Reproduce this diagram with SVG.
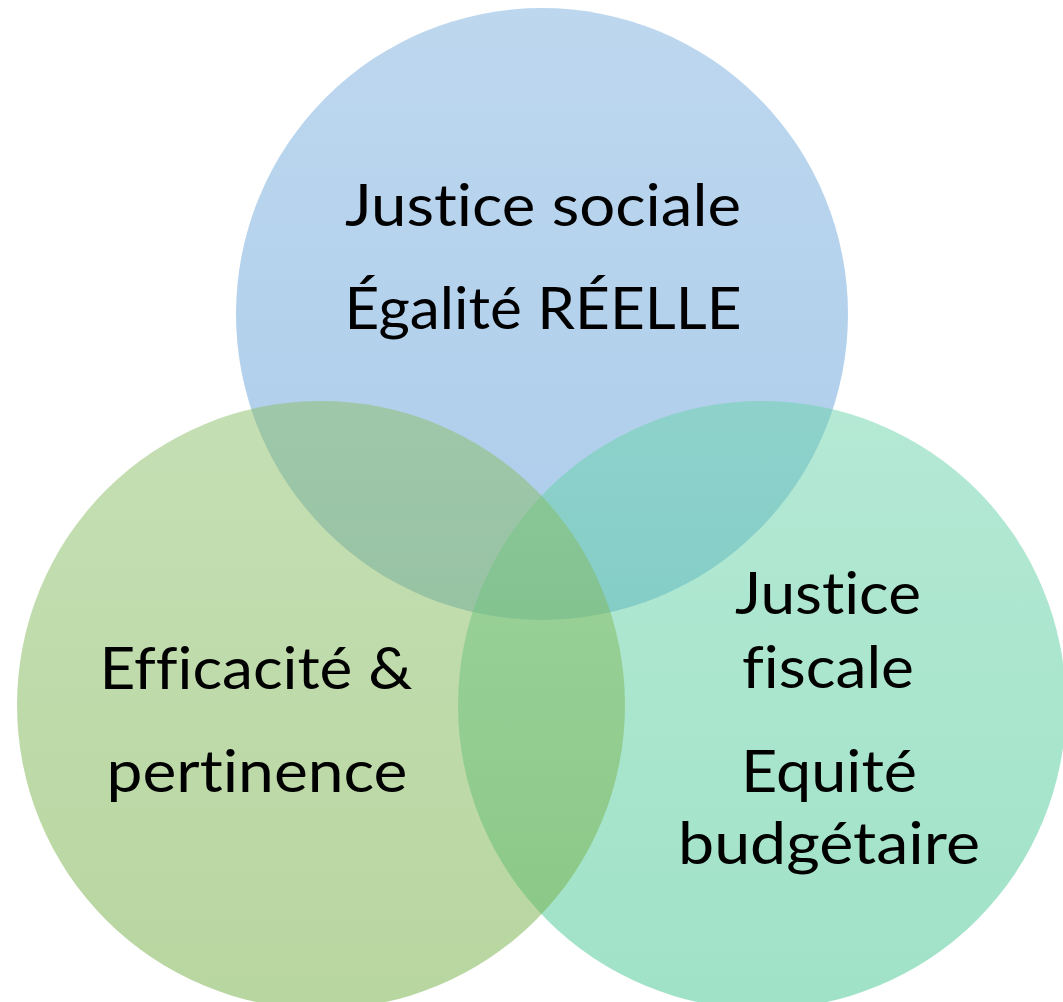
<svg xmlns="http://www.w3.org/2000/svg" width="1063" height="1002" viewBox="0 0 1063 1002">
<defs>
<linearGradient id="gBlue" x1="0" y1="0" x2="0" y2="1"><stop offset="0" stop-color="#7bafdd"/><stop offset="1" stop-color="#5b9bd8"/></linearGradient>
<linearGradient id="gTeal" x1="0" y1="0" x2="0" y2="1"><stop offset="0" stop-color="#6bd3ab"/><stop offset="1" stop-color="#41c591"/></linearGradient>
<linearGradient id="gGreen" x1="0" y1="0" x2="0" y2="1"><stop offset="0" stop-color="#8bbf69"/><stop offset="1" stop-color="#71ad41"/></linearGradient>
</defs>
<style>
.c{fill-opacity:0.5}
.t{font-family:Lato,"Open Sans",sans-serif;font-size:59px;fill:#000;text-anchor:middle;font-variant-ligatures:none;font-feature-settings:"liga" 0,"dlig" 0,"clig" 0}
</style>
<rect width="1063" height="1002" fill="#fff"/>
<g id="top">
<circle class="c" cx="542" cy="314" r="306" fill="url(#gBlue)"/>
<text class="t" x="543" y="226" textLength="396" lengthAdjust="spacingAndGlyphs">Justice sociale</text>
<text class="t" x="543" y="329" textLength="397" lengthAdjust="spacingAndGlyphs">Égalité RÉELLE</text>
</g>
<g id="right">
<circle class="c" cx="762" cy="705" r="304" fill="url(#gTeal)"/>
<text class="t" x="828" y="614" textLength="186" lengthAdjust="spacingAndGlyphs">Justice</text>
<text class="t" x="828" y="688" textLength="172" lengthAdjust="spacingAndGlyphs">fiscale</text>
<text class="t" x="829" y="792" textLength="176" lengthAdjust="spacingAndGlyphs">Equité</text>
<text class="t" x="829" y="864" textLength="302" lengthAdjust="spacingAndGlyphs">budgétaire</text>
</g>
<g id="left">
<circle class="c" cx="321" cy="705" r="304" fill="url(#gGreen)"/>
<text class="t" x="256" y="689" textLength="313" lengthAdjust="spacingAndGlyphs">Efficacité &amp;</text>
<text class="t" x="257" y="792" textLength="301" lengthAdjust="spacingAndGlyphs">pertinence</text>
</g>
<g id="connectors"/>
</svg>
